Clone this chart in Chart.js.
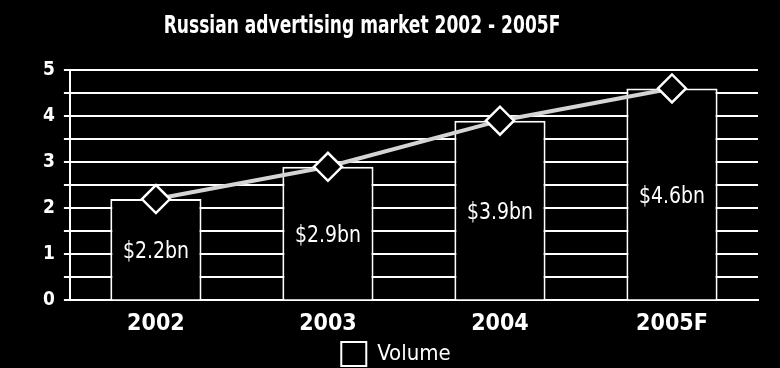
<!DOCTYPE html>
<html>
<head>
<meta charset="utf-8">
<script src="https://cdn.jsdelivr.net/npm/chart.js@4.4.1/dist/chart.umd.min.js"></script>
<style>
  html, body { margin: 0; padding: 0; background: #000; }
  #wrap { width: 780px; height: 368px; position: relative; }
</style>
</head>
<body>
<div id="wrap"><canvas id="adChart"></canvas></div>
<script>
const years = ["2002", "2003", "2004", "2005F"];
const volume = [2.2, 2.9, 3.9, 4.6];
const volumeLabels = ["$2.2bn", "$2.9bn", "$3.9bn", "$4.6bn"];
const yTicks = [0, 1, 2, 3, 4, 5];
const chartTitle = "Russian advertising market 2002 - 2005F";

const FONT = "'DejaVu Sans', sans-serif";

// tall narrow text: condensed face stretched vertically
function tallText(ctx, text, x, y, font, stretch) {
  ctx.save();
  ctx.font = font;
  ctx.translate(x, y);
  ctx.scale(1, stretch);
  ctx.fillText(text, 0, 0);
  ctx.restore();
}

// title plus the value text in the middle of each bar
const textLayer = {
  id: "textLayer",
  afterDatasetsDraw(chart) {
    const meta = chart.getDatasetMeta(1);
    const ctx = chart.ctx;
    ctx.save();
    ctx.fillStyle = "#fff";
    ctx.textAlign = "center";
    ctx.textBaseline = "middle";
    tallText(ctx, chartTitle, 362, 27, "condensed bold 19px " + FONT, 1.3);
    meta.data.forEach((bar, i) => {
      const mid = (bar.y + bar.base) / 2 + 3;
      tallText(ctx, volumeLabels[i], bar.x, mid, "condensed 21px " + FONT, 1.1);
    });
    ctx.restore();
  }
};

new Chart(document.getElementById("adChart"), {
  data: {
    labels: years,
    datasets: [
      {
        type: "line",
        label: "trend",
        data: volume,
        order: 0,
        borderColor: "#d4d4d4",
        borderWidth: 4,
        pointStyle: "rectRot",
        pointRadius: 14,
        pointBackgroundColor: "#000",
        pointBorderColor: "#fff",
        pointBorderWidth: 2.5,
        fill: false,
      },
      {
        type: "bar",
        label: "Volume",
        data: volume,
        order: 1,
        backgroundColor: "#000",
        borderColor: "#fff",
        borderWidth: 2,
        barPercentage: 0.53,
        categoryPercentage: 1,
      },
    ],
  },
  plugins: [textLayer],
  options: {
    responsive: true,
    maintainAspectRatio: false,
    animation: false,
    layout: { padding: { left: 34, right: 22, top: 70, bottom: -8 } },
    plugins: {
      title: { display: false },
      legend: {
        position: "bottom",
        labels: {
          color: "#fff",
          font: { family: FONT, size: 22, weight: "condensed" },
          boxWidth: 25,
          boxHeight: 24,
          padding: 2,
          filter: (item) => item.text === "Volume",
        },
      },
      tooltip: { enabled: false },
    },
    scales: {
      x: {
        grid: { display: false },
        border: { color: "#fff", width: 2 },
        ticks: {
          color: "#fff",
          font: { family: FONT, size: 23, weight: "condensed bold" },
          padding: 2,
        },
      },
      y: {
        min: 0,
        max: 5,
        grid: { color: "#fff", lineWidth: 2, tickLength: 6 },
        border: { color: "#fff", width: 2 },
        ticks: {
          stepSize: 0.5,
          autoSkip: false,
          color: "#fff",
          font: { family: FONT, size: 19, weight: "condensed bold" },
          padding: 9,
          callback: (v) => (yTicks.includes(v) ? v : ""),
        },
      },
    },
  },
});
</script>
</body>
</html>
